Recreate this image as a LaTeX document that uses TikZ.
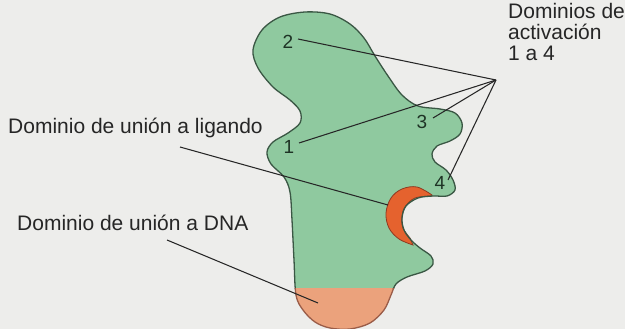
\documentclass[tikz,border=0pt]{standalone}
\usepackage{fontspec}
\setmainfont{Liberation Sans}
\begin{document}
\definecolor{paper}{HTML}{EDEDEB}
\definecolor{bodygreen}{HTML}{8FC99F}
\definecolor{bodyedge}{HTML}{3A5744}
\definecolor{dnapeach}{HTML}{EBA27C}
\definecolor{dnaedge}{HTML}{9A5C48}
\definecolor{ligorange}{HTML}{E5622E}
\definecolor{ligedge}{HTML}{8E3A22}
\definecolor{ink}{HTML}{262626}
\definecolor{numink}{HTML}{1E3325}
\begin{tikzpicture}[x=1pt,y=-1pt,
  label text/.style={font=\fontsize{21}{21}\selectfont, text=ink, inner sep=0pt, align=left},
  domain num/.style={font=\fontsize{19}{19}\selectfont, text=numink, inner sep=1pt},
  leader/.style={draw=ink, line width=1.05pt},
  outline/.style={line width=1.3pt, line join=round}]
\useasboundingbox (0,0) rectangle (625,329);
\fill[paper] (0,0) rectangle (625,329);

% receptor body outline, reused for fill, clip and stroke
\path[save path=\receptor] plot[smooth cycle, tension=0.55] coordinates {
  (253,50) (262,30) (280,17) (305,12) (330,14) (350,24) (364,38) (375,56)
  (388,76) (402,95) (418,106) (440,109) (455,113) (462,123) (460,134)
  (450,141) (437,146) (432,154) (435,162) (446,170) (453,180) (455,190)
  (447,196) (433,196) (418,198) (406,206) (402,218) (404,230) (411,240)
  (420,248) (431,256) (433,264) (425,271) (407,277) (396,284) (391,295)
  (384,310) (370,323) (350,329) (330,328) (315,322) (303,310) (296,295)
  (294,260) (292,220) (290,192) (284,177) (271,164) (267,152) (273,142)
  (288,133) (300,123) (300,111) (290,100) (273,87) (258,68)};

\fill[bodygreen, use path=\receptor];
\begin{scope}
  \clip[use path=\receptor];
  \fill[dnapeach] (200,288) rectangle (500,340);
\end{scope}

% ligand-binding pocket
\fill[ligorange, draw=ligedge, line width=0.8pt]
  plot[smooth, tension=0.6] coordinates {(432,195) (417,187) (402,189) (391,198) (386,213) (389,228) (399,239) (413,245)}
  -- plot[smooth, tension=0.6] coordinates {(410,238) (403,228) (402,217) (405,207) (415,198) (432,196)}
  -- cycle;

% body edge: green above the DNA-binding part, brownish below
\begin{scope}
  \clip (200,0) rectangle (500,288);
  \draw[outline, draw=bodyedge, use path=\receptor];
\end{scope}
\begin{scope}
  \clip (200,288) rectangle (500,340);
  \draw[outline, draw=dnaedge, use path=\receptor];
\end{scope}

% activation domain numbers
\node[domain num] (n1) at (289,147) {1};
\node[domain num] (n2) at (288,42) {2};
\node[domain num] (n3) at (422,122) {3};
\node[domain num] (n4) at (440,183) {4};

% labels
\node[label text, anchor=base west] (act) at (508,61)
  {Dominios de\\activación\\1 a 4};
\node[label text, anchor=base west] (lig) at (8,134) {Dominio de unión a ligando};
\node[label text, anchor=base west] (dna) at (17,230) {Dominio de unión a DNA};

% leader line ends
\coordinate (hub) at (496,80);
\coordinate (ligstart) at (180,147);
\coordinate (ligend) at (388,205);
\coordinate (dnastart) at (167,240);
\coordinate (dnaend) at (318,303);
\coordinate (e1) at (299,143);
\coordinate (e2) at (298,39);
\coordinate (e3) at (433,118);
\coordinate (e4) at (448,180);

\draw[leader] (e2) -- (hub);
\draw[leader] (e1) -- (hub);
\draw[leader] (e3) -- (hub);
\draw[leader] (e4) -- (hub);
\draw[leader] (ligstart) -- (ligend);
\draw[leader] (dnastart) -- (dnaend);
\end{tikzpicture}
\end{document}
